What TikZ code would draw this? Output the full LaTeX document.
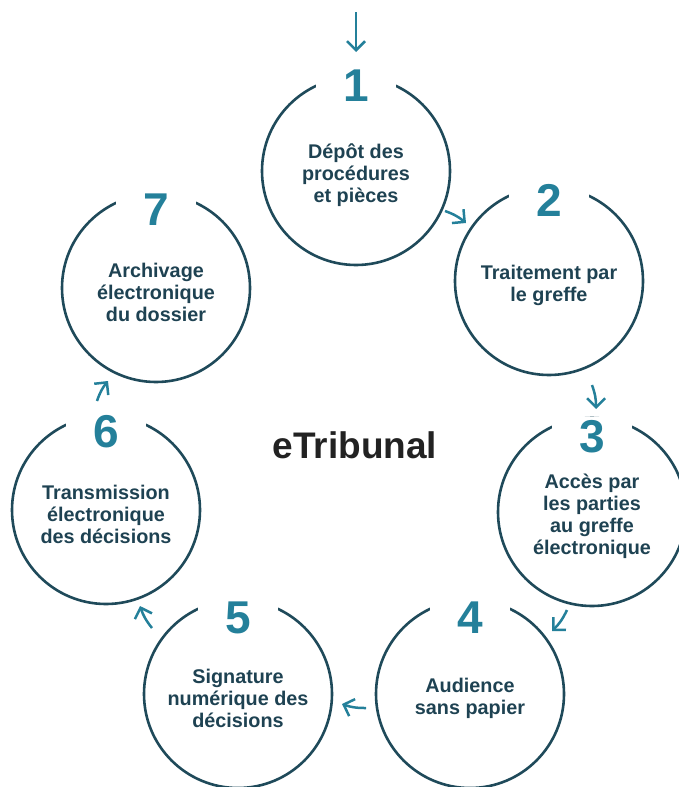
\documentclass[tikz,border=0pt]{standalone}
\usepackage{fontspec}
\setmainfont{Liberation Sans}
\usepackage{tikz}
\usetikzlibrary{arrows.meta}

\definecolor{ringcol}{HTML}{1F4A5A}
\definecolor{numcol}{HTML}{24809A}
\definecolor{txtcol}{HTML}{1E4252}
\definecolor{titlecol}{HTML}{222222}

\tikzset{
  stage/.style={circle,draw=ringcol,line width=2.6pt,minimum size=188pt,inner sep=0pt},
  stagetext/.style={text=txtcol,font=\bfseries\fontsize{19.8}{22}\selectfont,align=center,yshift=-4pt},
  stagenum/.style={fill=white,text=numcol,font=\bfseries\fontsize{46}{46}\selectfont,
    minimum width=80pt,minimum height=40pt,inner sep=0pt},
  flow/.style={numcol,line width=2.5pt,-{Straight Barb[length=9pt,width=18pt]}}
}

\begin{document}
\begin{tikzpicture}[x=1pt,y=-1pt]
\useasboundingbox (0,0) rectangle (679,787);

% Circles
\node[stage] (s1) at (356,171) {};
\node[stage] (s2) at (549,281) {};
\node[stage] (s3) at (592,512) {};
\node[stage] (s4) at (470,694) {};
\node[stage] (s5) at (238,694) {};
\node[stage] (s6) at (106,510) {};
\node[stage] (s7) at (156,288) {};

% Numbers (white box cuts the ring)
\node[stagenum] (n1) at (356,86) {1};
\node[stagenum] (n2) at (549,200) {2};
\node[stagenum] (n3) at (592,437) {3};
\node[stagenum] (n4) at (470,618) {4};
\node[stagenum] (n5) at (238,618) {5};
\node[stagenum] (n6) at (106,432) {6};
\node[stagenum] (n7) at (156,210) {7};

% Labels
\node[stagetext] (t1) at (s1) {Dépôt des\\procédures\\et pièces};
\node[stagetext] (t2) at (s2) {Traitement par\\le greffe};
\node[stagetext] (t3) at (s3) {Accès par\\les parties\\au greffe\\électronique};
\node[stagetext] (t4) at (s4) {Audience\\sans papier};
\node[stagetext] (t5) at (s5) {Signature\\numérique des\\décisions};
\node[stagetext] (t6) at (s6) {Transmission\\électronique\\des décisions};
\node[stagetext] (t7) at (s7) {Archivage\\électronique\\du dossier};

\node[text=titlecol,font=\bfseries\fontsize{37}{37}\selectfont] (title) at (355,445) {eTribunal};

% Arrow ends
\coordinate (a0s) at (356,12);  \coordinate (a0e) at (356,52);
\coordinate (a1s) at (445,211); \coordinate (a1e) at (466,223);
\coordinate (a2s) at (592,385); \coordinate (a2e) at (596,409);
\coordinate (a3s) at (567,610); \coordinate (a3e) at (552,631);
\coordinate (a4s) at (366,708); \coordinate (a4e) at (342,704);
\coordinate (a5s) at (152,628); \coordinate (a5e) at (140,606);
\coordinate (a6s) at (97,401);  \coordinate (a6e) at (108,381);

% Arrows
\draw[flow] (a0s) -- (a0e);
\draw[flow] (a1s) to[bend left=10] (a1e);
\draw[flow] (a2s) to[bend left=10] (a2e);
\draw[flow] (a3s) to[bend left=10] (a3e);
\draw[flow] (a4s) to[bend left=10] (a4e);
\draw[flow] (a5s) to[bend left=10] (a5e);
\draw[flow] (a6s) to[bend left=10] (a6e);
\end{tikzpicture}
\end{document}
